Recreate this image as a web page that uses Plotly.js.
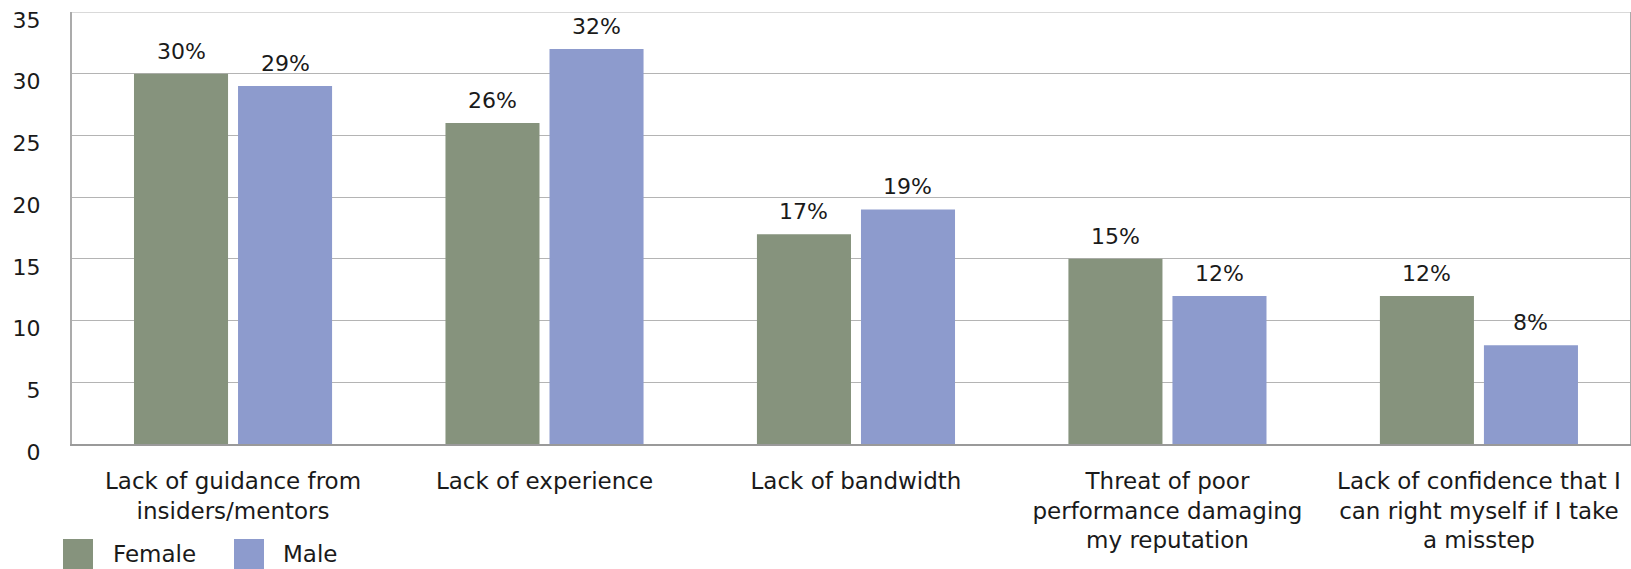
<!DOCTYPE html>
<html>
<head>
<meta charset="utf-8">
<script src="https://cdn.plot.ly/plotly-3.0.1.min.js"></script>
<style>
  html, body { margin: 0; padding: 0; background: #ffffff; }
  #chart { width: 1631px; height: 569px; }
</style>
</head>
<body>
<div id="chart"></div>
<script>
// Survey: obstacles to taking on stretch roles, by gender (percent of respondents)
const categories = [
  "Lack of guidance from<br>insiders/mentors",
  "Lack of experience",
  "Lack of bandwidth",
  "Threat of poor<br>performance damaging<br>my reputation",
  "Lack of confidence that I<br>can right myself if I take<br>a misstep"
];
const femaleValues = [30, 26, 17, 15, 12];
const maleValues = [29, 32, 19, 12, 8];
const seriesNames = ["Female", "Male"];
const yTicks = [0, 5, 10, 15, 20, 25, 30, 35];

const FEMALE_COLOR = "#86937d";
const MALE_COLOR = "#8d9bcd";
const FONT = "'DejaVu Sans', Lato, sans-serif";
const INK = "#1a1a1a";

const traces = [
  {
    type: "bar", name: seriesNames[0], x: categories, y: femaleValues,
    marker: { color: FEMALE_COLOR }, hoverinfo: "skip"
  },
  {
    type: "bar", name: seriesNames[1], x: categories, y: maleValues,
    marker: { color: MALE_COLOR }, hoverinfo: "skip"
  }
];

// percentage labels above each bar
const annotations = [];
const seriesVals = [femaleValues, maleValues];
seriesVals.forEach((vals, s) => {
  vals.forEach((v, i) => {
    annotations.push({
      x: categories[i], y: v, xref: "x", yref: "y",
      xshift: s === 0 ? -52 : 52, yshift: 8,
      yanchor: "bottom", showarrow: false,
      text: v + "%",
      font: { family: FONT, size: 22, color: INK }
    });
  });
});

// legend drawn below the axis labels, bottom-left
const plotTop = 12, plotBottom = 444, plotLeft = 72, plotRight = 1630;
const ph = plotBottom - plotTop, pw = plotRight - plotLeft;
const fx = px => (px - plotLeft) / pw;
const fy = py => (plotBottom - py) / ph;
const legendItems = [
  { name: seriesNames[0], color: FEMALE_COLOR, x0: 63, tx: 111 },
  { name: seriesNames[1], color: MALE_COLOR, x0: 234, tx: 281 }
];
const shapes = [
  // top frame line at the axis maximum
  { type: "line", xref: "paper", yref: "y", x0: 0, x1: 1, y0: 35, y1: 35,
    line: { color: "#b4b4b4", width: 1 } }
];
legendItems.forEach(it => {
  shapes.push({
    type: "rect", xref: "paper", yref: "paper",
    x0: fx(it.x0), x1: fx(it.x0 + 30), y0: fy(539), y1: fy(572),
    fillcolor: it.color, line: { width: 0 }
  });
  annotations.push({
    xref: "paper", yref: "paper", x: fx(it.tx), y: fy(554),
    xanchor: "left", yanchor: "middle", showarrow: false,
    text: it.name, font: { family: FONT, size: 23, color: INK }
  });
});

const layout = {
  width: 1631, height: 569,
  margin: { l: plotLeft, r: 1631 - plotRight, t: plotTop, b: 569 - plotBottom, pad: 0 },
  paper_bgcolor: "#ffffff", plot_bgcolor: "#ffffff",
  showlegend: false,
  barmode: "group", bargap: 0.332, bargroupgap: 0.096,
  xaxis: {
    type: "category",
    range: [-0.517, 4.485],
    showgrid: false, zeroline: false,
    showline: true, linecolor: "#9a9a9a", linewidth: 2,
    ticks: "", ticklabelstandoff: 15,
    tickfont: { family: FONT, size: 23, color: INK }
  },
  yaxis: {
    range: [0, 35.0001], tickvals: yTicks, ticktext: yTicks.map(String),
    showgrid: true, gridcolor: "#b4b4b4", gridwidth: 1,
    zeroline: false,
    showline: true, mirror: true, linecolor: "#ababab", linewidth: 2,
    ticks: "", ticklabelstandoff: 25, ticklabelshift: 8,
    tickfont: { family: FONT, size: 22, color: INK }
  },
  annotations: annotations,
  shapes: shapes
};

Plotly.newPlot("chart", traces, layout, { displayModeBar: false, staticPlot: true });
</script>
</body>
</html>
